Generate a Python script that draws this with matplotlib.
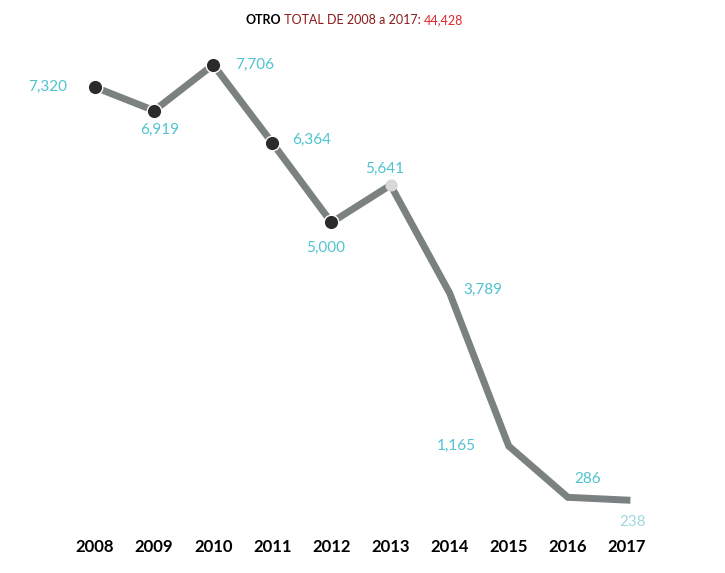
import numpy as np
import matplotlib.pyplot as plt

years = [2008, 2009, 2010, 2011, 2012, 2013, 2014, 2015, 2016, 2017]
values = [7320, 6919, 7706, 6364, 5000, 5641, 3789, 1165, 286, 238]
labels = ["7,320", "6,919", "7,706", "6,364", "5,000", "5,641", "3,789", "1,165", "286", "238"]
# label offsets in points (dx, dy) and alignment
offsets = [(-20, 0, 'right', 'center'), (4, -14, 'center', 'center'), (16, 0, 'left', 'center'),
           (14, 2, 'left', 'center'), (-4, -18, 'center', 'center'), (-4, 12, 'center', 'center'),
           (10, 2, 'left', 'center'), (-38, 0, 'center', 'center'), (14, 13, 'center', 'center'),
           (4, -16, 'center', 'center')]

plt.rcParams['font.family'] = ['Lato', 'DejaVu Sans']
fig = plt.figure(figsize=(7.25, 5.73), dpi=100)
ax = fig.add_axes([65.5 / 725, 53 / 573, 591 / 725, 480 / 573])

plt.plot(years, values, color='#7a8180', lw=5, solid_joinstyle='miter', zorder=2)
plt.scatter(years[:5], values[:5], s=110, color='#2b2b2d', edgecolor='white', linewidth=1, zorder=3)
plt.scatter(years[5:6], values[5:6], s=60, color='#d8d8d8', zorder=3)

for i in range(len(years)):
    dx, dy, ha, va = offsets[i]
    col = '#9fd8e0' if i == len(years) - 1 else '#4fc3d0'
    plt.annotate(labels[i], (years[i], values[i]), xytext=(dx, dy), textcoords='offset points',
                 ha=ha, va=va, color=col, fontsize=11)

plt.xlim(2007.5, 2017.5)
plt.ylim(-103, 8130)
plt.xticks(years, [str(y) for y in years], fontsize=12, fontweight='bold')
plt.yticks([])
ax.tick_params(axis='x', length=0, pad=14)
for s in ax.spines.values():
    s.set_visible(False)

# title built from three pieces chained one after the other
t1 = fig.text(245 / 725, 0.965, "OTRO", ha='left', va='center', fontsize=9, fontweight='bold', color='black')
t2 = ax.annotate(" TOTAL DE 2008 a 2017: ", xy=(1, 0.5), xycoords=t1, ha='left', va='center',
                 fontsize=9, color='#8b1a1a', annotation_clip=False)
ax.annotate("44,428", xy=(1, 0.5), xycoords=t2, ha='left', va='center',
            fontsize=9, color='#e0262b', annotation_clip=False)

plt.savefig('out.png')
